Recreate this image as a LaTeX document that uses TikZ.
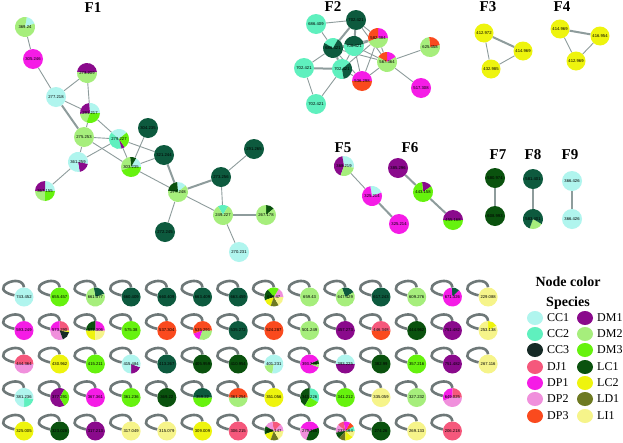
\documentclass[tikz,border=0pt]{standalone}
\usepackage{fontspec}
\setmainfont{Liberation Serif}
\newfontfamily\lblfont{Liberation Sans}
\usetikzlibrary{backgrounds}
\definecolor{cCCa}{HTML}{B0F5EE}
\definecolor{cCCb}{HTML}{5FF0BE}
\definecolor{cCCc}{HTML}{162A26}
\definecolor{cDJ}{HTML}{F5587C}
\definecolor{cDPa}{HTML}{F51CE6}
\definecolor{cDPb}{HTML}{F090DC}
\definecolor{cDPc}{HTML}{FA4A1E}
\definecolor{cDMa}{HTML}{8A0A8C}
\definecolor{cDMb}{HTML}{A6EE7C}
\definecolor{cDMc}{HTML}{66F20E}
\definecolor{cLCa}{HTML}{0A520E}
\definecolor{cLCb}{HTML}{EEF40E}
\definecolor{cLD}{HTML}{6E7A22}
\definecolor{cLI}{HTML}{F6F48A}
\definecolor{cDK}{HTML}{0D5A3E}
\definecolor{edgec}{HTML}{8E9C9C}
\definecolor{loopc}{HTML}{6E7878}
\tikzset{
  nd/.style={circle, inner sep=0pt, font=\lblfont\fontsize{4.2}{4.5}\selectfont, text=black},
  edge/.style={draw=edgec, line width=0.9pt},
  thk/.style={draw=edgec, line width=2pt},
  loopst/.style={draw=loopc, line width=2.6pt},
  ftitle/.style={font=\bfseries\fontsize{15}{16}\selectfont, inner sep=0pt},
  legtitle/.style={font=\bfseries\fontsize{14}{15}\selectfont, inner sep=0pt},
  legtxt/.style={font=\fontsize{12}{13}\selectfont, anchor=west, inner sep=0pt},
  legdot/.style={ellipse, minimum width=16pt, minimum height=14pt, inner sep=0pt},
}
\usetikzlibrary{shapes.geometric}
\newcommand\pienode[6]{%
  \foreach \a/\b/\c in {#6}{\fill[\c] (#2,#3) -- ++(\a:#4pt) arc[start angle=\a,end angle=\b,radius=#4pt] -- cycle;}%
  \node[nd,minimum size=#4*2pt] (#1) at (#2,#3) {#5};}
\newcommand\selfnode[5]{%
  \pienode{#1}{#2}{#3}{9.5}{#4}{#5}%
  \begin{pgfonlayer}{background}\draw[loopst] (#1.north) .. controls +(-2,-15.5) and +(-29.5,-6.5) .. (#1.170);\end{pgfonlayer}}
\begin{document}
\begin{tikzpicture}[x=1pt,y=-1pt]
\begin{pgfonlayer}{background}
\fill[white] (0,0) rectangle (623,442);
\end{pgfonlayer}
\useasboundingbox (0,0) rectangle (623,442);
% titles
\node[ftitle] (F1) at (93,8) {F1};
\node[ftitle] (F2) at (333,7) {F2};
\node[ftitle] (F3) at (488,7) {F3};
\node[ftitle] (F4) at (562,7) {F4};
\node[ftitle] (F5) at (343,148) {F5};
\node[ftitle] (F6) at (410,148) {F6};
\node[ftitle] (F7) at (498,155) {F7};
\node[ftitle] (F8) at (533,155) {F8};
\node[ftitle] (F9) at (570,155) {F9};
% F1
\pienode{a1}{25}{27}{10}{369.24}{20/80/cCCa,80/380/cDMb}
\pienode{a2}{33}{59}{10}{305.246}{0/360/cDPa}
\pienode{a3}{87}{73}{10}{273.209}{5/175/cDMa,175/365/cDMb}
\pienode{a4}{56}{97}{10}{277.218}{0/360/cCCa}
\pienode{a5}{90}{113}{10}{291.217}{0/95/cCCa,95/185/cDMa,185/250/cDMb,250/360/cDMc}
\pienode{a6}{84}{137}{10}{275.253}{0/360/cDMb}
\pienode{a7}{119}{139}{10}{279.227}{40/140/cCCa,140/285/cCCb,285/305/cDMa,305/400/cDMc}
\pienode{a8}{148}{128}{10}{304.235}{0/360/cDK}
\pienode{a9}{164}{155}{10}{321.244}{0/360/cDK}
\pienode{a10}{78}{162}{10}{361.259}{280/350/cDMa,350/640/cCCa}
\pienode{a11}{131}{167}{10}{303.235}{0/60/cCCa,60/95/cLCa,95/200/cDMb,200/360/cDMc}
\pienode{a12}{45}{191}{10}{367.155}{0/90/cCCa,90/180/cDMa,180/270/cDMb,270/360/cDMc}
\pienode{a13}{221}{177}{10}{273.256}{0/360/cDK}
\pienode{a14}{254}{149}{10}{291.265}{0/360/cDK}
\pienode{a15}{178}{192}{10}{277.248}{40/95/cCCa,95/175/cLCa,175/400/cDMb}
\pienode{a16}{165}{232}{10}{272.245}{0/360/cDK}
\pienode{a17}{223}{215}{10}{249.227}{60/120/cCCb,120/420/cDMb}
\pienode{a18}{266}{215}{10}{267.178}{40/90/cLCa,90/400/cDMb}
\pienode{a19}{239}{252}{10}{270.231}{0/360/cCCa}
% F2
\pienode{m1}{316}{24}{10}{686.409}{0/360/cCCb}
\pienode{m2}{356}{20}{10}{702.421}{0/360/cDK}
\pienode{m3}{333}{48}{10}{686.421}{60/150/cCCb,150/420/cDK}
\pienode{m4}{354}{46}{10}{706.421}{10/170/cDK,170/370/cCCb}
\pienode{m5}{378}{38}{10}{582.384}{0/90/cDPa,90/200/cDPc,200/360/cDMb}
\pienode{m6}{387}{62}{10}{567.364}{30/90/cDPa,90/150/cDPc,150/390/cDMb}
\pienode{m7}{304}{68}{10}{702.421}{0/360/cCCb}
\pienode{m8}{342}{69}{10}{702.421}{40/280/cCCb,280/400/cDK}
\pienode{m9}{362}{81}{10}{536.298}{0/180/cDPa,180/360/cDPc}
\pienode{m10}{316}{104}{10}{702.421}{0/360/cCCb}
\pienode{m11}{430}{47}{10}{625.358}{10/95/cDPc,95/370/cDMb}
\pienode{m12}{421}{88}{10}{517.308}{0/360/cDPa}
% F3 F4
\pienode{p1}{484}{33}{9.5}{412.972}{0/360/cLCb}
\pienode{p2}{523}{51}{9.5}{414.969}{0/360/cLCb}
\pienode{p3}{491}{69}{9.5}{432.985}{0/360/cLCb}
\pienode{q1}{560}{29}{9.5}{414.969}{0/360/cLCb}
\pienode{q2}{600}{36}{9.5}{416.954}{0/360/cLCb}
\pienode{q3}{576}{61}{9.5}{412.969}{0/360/cLCb}
% F5-F9
\pienode{s1}{344}{166}{10}{368.219}{-10/100/cCCa,100/250/cDMa,250/350/cDMb}
\pienode{s2}{372}{196}{10}{325.214}{20/100/cCCa,100/380/cDPa}
\pienode{s3}{399}{224}{10}{325.214}{0/360/cDPa}
\pienode{t1}{398}{168}{10}{385.296}{0/360/cDMa}
\pienode{t2}{423}{192}{10}{443.158}{35/95/cDMa,95/395/cDMc}
\pienode{t3}{453}{220}{10}{455.168}{0/180/cDMa,180/360/cDMc}
\pienode{u1}{495}{178}{10}{580.974}{0/360/cLCa}
\pienode{u2}{495}{216}{10}{608.993}{0/360/cLCa}
\pienode{v1}{533}{179}{10}{581.401}{0/360/cDK}
\pienode{v2}{533}{219}{10}{583.401}{250/330/cDMb,330/610/cDK}
\pienode{w1}{572}{181}{10}{366.426}{0/360/cCCa}
\pienode{w2}{572}{219}{10}{366.426}{0/360/cCCa}
% grid row 1
\selfnode{g11}{24}{297}{743.452}{0/360/cCCa}
\selfnode{g12}{59.7}{297}{655.457}{0/360/cDMc}
\selfnode{g13}{95.4}{297}{661.377}{20/100/cDK,100/380/cDMb}
\selfnode{g14}{131.1}{297}{660.409}{0/360/cDK}
\selfnode{g15}{166.8}{297}{660.409}{0/360/cDK}
\selfnode{g16}{202.5}{297}{663.409}{0/360/cDK}
\selfnode{g17}{238.2}{297}{663.459}{0/360/cDK}
\selfnode{g18}{273.9}{297}{659.47}{0/60/cDPb,60/130/cDMc,130/200/cLCa,200/250/cLCb,250/300/cLD,300/360/cLI}
\selfnode{g19}{309.6}{297}{659.43}{0/360/cDMb}
\selfnode{g110}{345.3}{297}{647.429}{30/110/cDK,110/390/cDMb}
\selfnode{g111}{381}{297}{617.243}{0/360/cDK}
\selfnode{g112}{416.7}{297}{609.276}{0/360/cDMb}
\selfnode{g113}{452.4}{297}{671.326}{45/95/cDK,95/405/cDPa}
\selfnode{g114}{488.1}{297}{229.088}{0/360/cLI}
% row 2
\selfnode{g21}{24}{330.5}{593.249}{0/360/cDPa}
\selfnode{g22}{59.7}{330.5}{573.290}{0/90/cDJ,90/180/cDPa,180/290/cDPb,290/350/cCCc,350/360/cLCb}
\selfnode{g23}{95.4}{330.5}{577.306}{0/90/cDPa,90/180/cLCa,180/270/cLCb,270/360/cLI}
\selfnode{g24}{131.1}{330.5}{575.38}{0/360/cDMc}
\selfnode{g25}{166.8}{330.5}{537.304}{0/360/cDPc}
\selfnode{g26}{202.5}{330.5}{535.291}{0/200/cDPc,200/250/cDPa,250/360/cDMb}
\selfnode{g27}{238.2}{330.5}{535.272}{0/360/cDK}
\selfnode{g28}{273.9}{330.5}{524.287}{0/360/cDPc}
\selfnode{g29}{309.6}{330.5}{501.249}{0/360/cDMb}
\selfnode{g210}{345.3}{330.5}{457.273}{0/360/cDMa}
\selfnode{g211}{381}{330.5}{446.348}{0/180/cDJ,180/360/cDPc}
\selfnode{g212}{416.7}{330.5}{444.962}{0/360/cLCa}
\selfnode{g213}{452.4}{330.5}{751.482}{0/360/cDMa}
\selfnode{g214}{488.1}{330.5}{253.138}{30/90/cLCb,90/390/cLI}
% row 3
\selfnode{g31}{24}{364}{444.364}{0/180/cDJ,180/360/cDPb}
\selfnode{g32}{59.7}{364}{430.962}{0/360/cLCb}
\selfnode{g33}{95.4}{364}{415.211}{0/360/cDMc}
\selfnode{g34}{131.1}{364}{415.484}{270/340/cDMa,340/630/cCCa}
\selfnode{g35}{166.8}{364}{413.267}{0/360/cDK}
\selfnode{g36}{202.5}{364}{405.959}{0/360/cLCa}
\selfnode{g37}{238.2}{364}{410.954}{0/360/cLCa}
\selfnode{g38}{273.9}{364}{401.231}{190/260/cDMb,260/550/cCCa}
\selfnode{g39}{309.6}{364}{393.268}{0/25/cLCa,25/340/cDPa,340/360/cDMb}
\selfnode{g310}{345.3}{364}{393.225}{0/180/cCCa,180/360/cDMa}
\selfnode{g311}{381}{364}{382.99}{0/360/cLCa}
\selfnode{g312}{416.7}{364}{357.216}{0/360/cDMc}
\selfnode{g313}{452.4}{364}{751.482}{0/360/cDMa}
\selfnode{g314}{488.1}{364}{267.116}{0/360/cLI}
% row 4
\selfnode{g41}{24}{397.5}{381.236}{270/350/cCCb,350/630/cCCa}
\selfnode{g42}{59.7}{397.5}{377.291}{60/300/cDMa,300/420/cDMc}
\selfnode{g43}{95.4}{397.5}{367.361}{0/360/cDPa}
\selfnode{g44}{131.1}{397.5}{361.236}{0/360/cDMc}
\selfnode{g45}{166.8}{397.5}{369.22}{0/360/cLCa}
\selfnode{g46}{202.5}{397.5}{359.22}{0/180/cDK,180/360/cDMc}
\selfnode{g47}{238.2}{397.5}{361.254}{0/180/cDPc,180/360/cDMb}
\selfnode{g48}{273.9}{397.5}{351.056}{0/360/cLCb}
\selfnode{g49}{309.6}{397.5}{343.226}{-30/90/cCCb,90/240/cLCa,240/330/cDMc}
\selfnode{g410}{345.3}{397.5}{341.212}{0/360/cDMc}
\selfnode{g411}{381}{397.5}{335.059}{0/360/cLI}
\selfnode{g412}{416.7}{397.5}{327.232}{0/360/cDMb}
\selfnode{g413}{452.4}{397.5}{649.025}{0/90/cDJ,90/200/cDPa,200/360/cDPb}
% row 5
\selfnode{g51}{24}{431}{325.005}{0/360/cLCb}
\selfnode{g52}{59.7}{431}{323.028}{0/360/cLCa}
\selfnode{g53}{95.4}{431}{317.213}{0/360/cDMa}
\selfnode{g54}{131.1}{431}{317.049}{0/360/cLI}
\selfnode{g55}{166.8}{431}{315.079}{0/360/cLI}
\selfnode{g56}{202.5}{431}{309.009}{0/360/cLCb}
\selfnode{g57}{238.2}{431}{306.215}{0/360/cDJ}
\selfnode{g58}{273.9}{431}{299.147}{0/45/cDPb,45/100/cDJ,100/150/cDPb,150/200/cLCa,200/250/cLCb,250/300/cLD,300/360/cLI}
\selfnode{g59}{309.6}{431}{279.165}{20/160/cDPa,160/250/cDPb,250/380/cLCa}
\selfnode{g510}{345.3}{431}{233.164}{0/30/cCCb,30/60/cDPc,60/100/cDPa,100/140/cDJ,140/190/cDPb,190/230/cLCa,230/270/cLD,270/320/cLCb,320/360/cLI}
\selfnode{g511}{381}{431}{274.26}{0/360/cLCa}
\selfnode{g512}{416.7}{431}{269.133}{0/360/cLI}
\selfnode{g513}{452.4}{431}{206.218}{0/360/cDJ}
% legend
\node[legtitle] (lt1) at (568,282) {Node color};
\node[legtitle] (lt2) at (568,303) {Species};
\foreach \n/\c/\yy in {CC1/cCCa/318,CC2/cCCb/334,CC3/cCCc/350,DJ1/cDJ/367,DP1/cDPa/383,DP2/cDPb/399,DP3/cDPc/416}{
  \node[legdot,fill=\c] (ld\n) at (535,\yy) {};
  \node[legtxt] (lx\n) at (547,\yy) {\n};}
\foreach \n/\c/\yy in {DM1/cDMa/318,DM2/cDMb/334,DM3/cDMc/350,LC1/cLCa/367,LC2/cLCb/383,LD1/cLD/399,LI1/cLI/416}{
  \node[legdot,fill=\c] (ld\n) at (585,\yy) {};
  \node[legtxt] (lx\n) at (597,\yy) {\n};}
% edges
\begin{pgfonlayer}{background}
\draw[edge] (a1)--(a2); \draw[edge] (a2)--(a4); \draw[edge] (a4)--(a3); \draw[edge] (a4)--(a5);
\draw[edge] (a3)--(a5); \draw[thk] (a4)--(a6); \draw[edge] (a5)--(a6); \draw[edge] (a5)--(a7);
\draw[edge] (a6)--(a7); \draw[edge] (a6)--(a10); \draw[edge] (a6)--(a11); \draw[edge] (a10)--(a7);
\draw[edge] (a7)--(a11); \draw[edge] (a7)--(a9); \draw[edge] (a8)--(a11); \draw[edge] (a11)--(a9);
\draw[thk] (a9)--(a15); \draw[edge] (a11)--(a15); \draw[thk] (a15)--(a13); \draw[edge] (a15)--(a17);
\draw[edge] (a15)--(a16); \draw[edge] (a13)--(a14); \draw[edge] (a13)--(a17); \draw[thk] (a17)--(a18);
\draw[edge] (a17)--(a19); \draw[edge] (a10)--(a12);
\draw[edge] (m1)--(m2); \draw[edge] (m1)--(m3); \draw[thk] (m2)--(m3); \draw[thk] (m2)--(m4);
\draw[edge] (m2)--(m5); \draw[edge] (m2)--(m6); \draw[thk] (m3)--(m4); \draw[edge] (m3)--(m7);
\draw[thk] (m3)--(m8); \draw[edge] (m3)--(m5); \draw[edge] (m3)--(m6); \draw[thk] (m4)--(m5);
\draw[edge] (m4)--(m6); \draw[edge] (m4)--(m8); \draw[edge] (m4)--(m9); \draw[thk] (m7)--(m8);
\draw[edge] (m7)--(m10); \draw[edge] (m8)--(m10); \draw[edge] (m8)--(m9); \draw[edge] (m8)--(m5);
\draw[edge] (m5)--(m6); \draw[edge] (m5)--(m9); \draw[edge] (m6)--(m9); \draw[edge] (m6)--(m11);
\draw[edge] (m6)--(m12); \draw[edge] (m3)--(m9);
\draw[thk] (p1)--(p2); \draw[edge] (p1)--(p3); \draw[edge] (p2)--(p3);
\draw[thk] (q1)--(q2); \draw[edge] (q1)--(q3); \draw[edge] (q2)--(q3);
\draw[edge] (s1)--(s2); \draw[thk] (s2)--(s3);
\draw[thk] (t1)--(t2); \draw[thk] (t2)--(t3);
\draw[thk] (u1)--(u2); \draw[thk] (v1)--(v2); \draw[thk] (w1)--(w2);
\end{pgfonlayer}
\end{tikzpicture}
\end{document}
